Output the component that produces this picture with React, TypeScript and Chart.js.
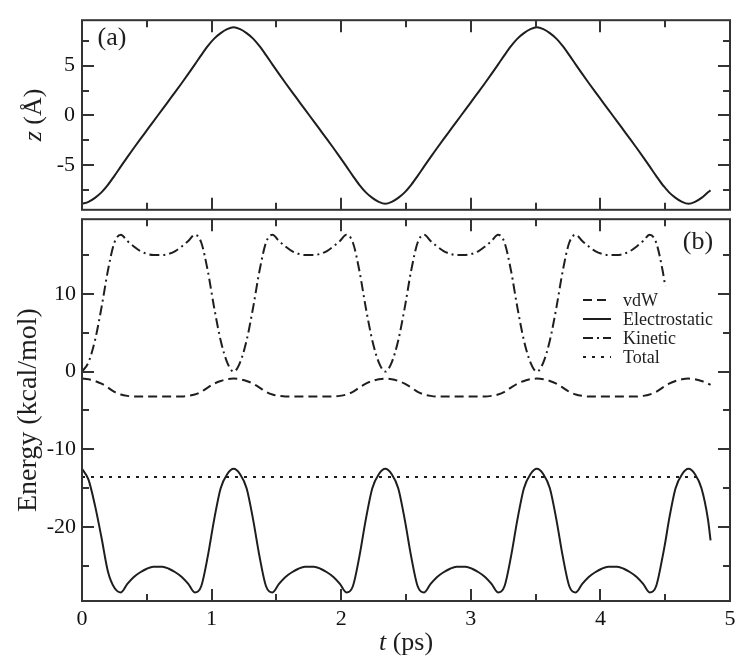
import React, { useEffect, useRef } from "react";
import { Chart, registerables } from "chart.js";
Chart.register(...registerables);

// time grid (ps)
const T = [
  0, 0.05, 0.1, 0.15, 0.2, 0.25, 0.3, 0.35, 0.4, 0.45, 0.5, 0.55, 0.62, 0.67, 0.72, 0.77, 0.82, 0.87, 0.92, 0.97, 1.02, 1.07, 1.12,
  1.17, 1.22, 1.27, 1.32, 1.37, 1.42, 1.47, 1.52, 1.57, 1.62, 1.67, 1.72, 1.79, 1.84, 1.89, 1.94, 1.99, 2.04, 2.09, 2.14, 2.19, 2.24, 2.29,
  2.34, 2.39, 2.44, 2.49, 2.54, 2.59, 2.64, 2.69, 2.74, 2.79, 2.84, 2.89, 2.96, 3.01, 3.06, 3.11, 3.16, 3.21, 3.26, 3.31, 3.36, 3.41, 3.46,
  3.51, 3.56, 3.61, 3.66, 3.71, 3.76, 3.81, 3.86, 3.91, 3.96, 4.01, 4.06, 4.13, 4.18, 4.23, 4.28, 4.33, 4.38, 4.43, 4.48, 4.5, 4.53, 4.58, 4.63,
  4.68, 4.73, 4.78, 4.83, 4.85,
];

// panel (a): z (Å)
const Z = [
  -8.85, -8.65, -8.25, -7.7, -6.95, -6.05, -5.1, -4.17, -3.26, -2.37, -1.49, -0.61, 0.61, 1.49, 2.37, 3.26, 4.17, 5.1, 6.05, 6.95, 7.7, 8.25, 8.65,
  8.85, 8.65, 8.25, 7.7, 6.95, 6.05, 5.1, 4.17, 3.26, 2.37, 1.49, 0.61, -0.61, -1.49, -2.37, -3.26, -4.17, -5.1, -6.05, -6.95, -7.7, -8.25, -8.65,
  -8.85, -8.65, -8.25, -7.7, -6.95, -6.05, -5.1, -4.17, -3.26, -2.37, -1.49, -0.61, 0.61, 1.49, 2.37, 3.26, 4.17, 5.1, 6.05, 6.95, 7.7, 8.25, 8.65,
  8.85, 8.65, 8.25, 7.7, 6.95, 6.05, 5.1, 4.17, 3.26, 2.37, 1.49, 0.61, -0.61, -1.49, -2.37, -3.26, -4.17, -5.1, -6.05, -6.95, -7.25, -7.7, -8.25, -8.65,
  -8.85, -8.65, -8.25, -7.7, -7.5,
];

// panel (b): energies (kcal/mol)
const VDW = [
  -0.9, -0.98, -1.2, -1.55, -2.05, -2.6, -2.95, -3.12, -3.2, -3.2, -3.2, -3.2, -3.2, -3.2, -3.2, -3.2, -3.12, -2.95, -2.6, -2.05, -1.55, -1.2, -0.98,
  -0.9, -0.98, -1.2, -1.55, -2.05, -2.6, -2.95, -3.12, -3.2, -3.2, -3.2, -3.2, -3.2, -3.2, -3.2, -3.2, -3.12, -2.95, -2.6, -2.05, -1.55, -1.2, -0.98,
  -0.9, -0.98, -1.2, -1.55, -2.05, -2.6, -2.95, -3.12, -3.2, -3.2, -3.2, -3.2, -3.2, -3.2, -3.2, -3.2, -3.12, -2.95, -2.6, -2.05, -1.55, -1.2, -0.98,
  -0.9, -0.98, -1.2, -1.55, -2.05, -2.6, -2.95, -3.12, -3.2, -3.2, -3.2, -3.2, -3.2, -3.2, -3.2, -3.2, -3.12, -2.95, -2.6, -2.05, -1.85, -1.55, -1.2, -0.98,
  -0.9, -0.98, -1.2, -1.55, -1.7,
];

const ELEC = [
  -12.5, -13.9, -17.2, -21.3, -25.7, -27.8, -28.4, -27.3, -26.4, -25.8, -25.35, -25.1, -25.1, -25.35, -25.8, -26.4, -27.3, -28.4, -27.6, -23.8, -19.0, -15.0, -13.2,
  -12.5, -13.2, -15.0, -19.0, -23.8, -27.6, -28.4, -27.3, -26.4, -25.8, -25.35, -25.1, -25.1, -25.35, -25.8, -26.4, -27.3, -28.4, -27.6, -23.8, -19.0, -15.0, -13.2,
  -12.5, -13.2, -15.0, -19.0, -23.8, -27.6, -28.4, -27.3, -26.4, -25.8, -25.35, -25.1, -25.1, -25.35, -25.8, -26.4, -27.3, -28.4, -27.6, -23.8, -19.0, -15.0, -13.2,
  -12.5, -13.2, -15.0, -19.0, -23.8, -27.6, -28.4, -27.3, -26.4, -25.8, -25.35, -25.1, -25.1, -25.35, -25.8, -26.4, -27.3, -28.4, -27.6, -23.8, -22.0, -19.0, -15.0, -13.2,
  -12.5, -13.2, -15.0, -19.0, -21.7,
];

const KIN = [
  0, 1.2, 4.0, 8.2, 13.0, 16.6, 17.6, 16.8, 16.1, 15.5, 15.15, 15.0, 15.0, 15.15, 15.5, 16.1, 16.8, 17.6, 16.6, 13.0, 8.2, 4.0, 1.2,
  0, 1.2, 4.0, 8.2, 13.0, 16.6, 17.6, 16.8, 16.1, 15.5, 15.15, 15.0, 15.0, 15.15, 15.5, 16.1, 16.8, 17.6, 16.6, 13.0, 8.2, 4.0, 1.2,
  0, 1.2, 4.0, 8.2, 13.0, 16.6, 17.6, 16.8, 16.1, 15.5, 15.15, 15.0, 15.0, 15.15, 15.5, 16.1, 16.8, 17.6, 16.6, 13.0, 8.2, 4.0, 1.2,
  0, 1.2, 4.0, 8.2, 13.0, 16.6, 17.6, 16.8, 16.1, 15.5, 15.15, 15.0, 15.0, 15.15, 15.5, 16.1, 16.8, 17.6, 16.6, 13.0, 11.0, null, null, null,
  null, null, null, null, null,
];

const TOTAL_T = [0, 4.78];
const TOTAL = [-13.55, -13.55];

const X_TICKS = [0, 1, 2, 3, 4, 5];
const Z_TICKS = [-5, 0, 5];
const E_TICKS = [-20, -10, 0, 10];

const LEGEND = ["vdW", "Electrostatic", "Kinetic", "Total"];

const FONT = "'Liberation Serif', 'Times New Roman', serif";
const INK = "#1e1e1e";
const FRAME = "#333333";

const DASH_VDW = [9, 5];
const DASH_KIN = [10, 4, 2, 4];
const DASH_TOT = [3, 6];

function pts(xs: number[], ys: (number | null)[]) {
  const out: { x: number; y: number }[] = [];
  xs.forEach((x, i) => {
    const v = ys[i];
    if (v !== null && v !== undefined) out.push({ x, y: v });
  });
  return out;
}

function drawMixed(ctx: CanvasRenderingContext2D, parts: { t: string; it: boolean }[], cx: number, cy: number, size: number) {
  let total = 0;
  const widths = parts.map((p) => {
    ctx.font = `${p.it ? "italic " : ""}${size}px ${FONT}`;
    const w = ctx.measureText(p.t).width;
    total += w;
    return w;
  });
  let x = cx - total / 2;
  ctx.textAlign = "left";
  ctx.textBaseline = "middle";
  parts.forEach((p, i) => {
    ctx.font = `${p.it ? "italic " : ""}${size}px ${FONT}`;
    ctx.fillText(p.t, x, cy);
    x += widths[i];
  });
}

function drawFrame(chart: any, yMinor: number, yMajor: number) {
  const { ctx, chartArea: a, scales } = chart;
  const xs = scales.x;
  const ys = scales.y;
  ctx.save();
  ctx.strokeStyle = FRAME;
  ctx.lineWidth = 2;
  ctx.setLineDash([]);
  ctx.beginPath();
  for (let v = xs.min + 0.5; v < xs.max - 1e-6; v += 0.5) {
    const px = Math.round(xs.getPixelForValue(v));
    const major = Math.abs(v - Math.round(v)) < 1e-6;
    const len = major ? 12 : 7;
    ctx.moveTo(px, a.top);
    ctx.lineTo(px, a.top + len);
    ctx.moveTo(px, a.bottom);
    ctx.lineTo(px, a.bottom - len);
  }
  const start = Math.ceil(ys.min / yMinor) * yMinor;
  for (let v = start; v <= ys.max + 1e-6; v += yMinor) {
    const py = Math.round(ys.getPixelForValue(v));
    const r = v / yMajor;
    const major = Math.abs(r - Math.round(r)) < 1e-6;
    const len = major ? 12 : 7;
    ctx.moveTo(a.left, py);
    ctx.lineTo(a.left + len, py);
    ctx.moveTo(a.right, py);
    ctx.lineTo(a.right - len, py);
  }
  ctx.stroke();
  ctx.strokeRect(a.left, a.top, a.right - a.left, a.bottom - a.top);
  ctx.restore();
}

const topDecor = {
  id: "topDecor",
  afterDraw(chart: any) {
    drawFrame(chart, 2.5, 5);
    const { ctx, chartArea: a } = chart;
    ctx.save();
    ctx.fillStyle = INK;
    ctx.font = `26px ${FONT}`;
    ctx.textAlign = "center";
    ctx.textBaseline = "middle";
    ctx.fillText("(a)", 112, 38);
    ctx.translate(34, (a.top + a.bottom) / 2);
    ctx.rotate(-Math.PI / 2);
    drawMixed(ctx, [{ t: "z", it: true }, { t: " (Å)", it: false }], 0, 0, 26);
    ctx.restore();
  },
};

const bottomDecor = {
  id: "bottomDecor",
  afterDraw(chart: any) {
    drawFrame(chart, 5, 10);
    const { ctx, chartArea: a } = chart;
    ctx.save();
    ctx.fillStyle = INK;
    ctx.font = `26px ${FONT}`;
    ctx.textAlign = "center";
    ctx.textBaseline = "middle";
    ctx.fillText("(b)", 698, 42);
    // legend
    const dashes = [DASH_VDW, [], DASH_KIN, DASH_TOT];
    ctx.strokeStyle = INK;
    ctx.lineWidth = 2;
    LEGEND.forEach((name, i) => {
      const y = 100 + i * 19;
      ctx.setLineDash(dashes[i]);
      ctx.beginPath();
      ctx.moveTo(583, y);
      ctx.lineTo(611, y);
      ctx.stroke();
      ctx.setLineDash([]);
      ctx.font = `18px ${FONT}`;
      ctx.textAlign = "left";
      ctx.textBaseline = "middle";
      ctx.fillText(name, 623, y + 1);
    });
    // x title
    drawMixed(ctx, [{ t: "t", it: true }, { t: " (ps)", it: false }], (a.left + a.right) / 2, 443, 26);
    ctx.restore();
  },
};

const lineBase = {
  borderColor: INK,
  borderWidth: 2,
  pointRadius: 0,
  fill: false,
  cubicInterpolationMode: "monotone" as const,
};

export default function App() {
  const topRef = useRef<HTMLCanvasElement>(null);
  const botRef = useRef<HTMLCanvasElement>(null);

  useEffect(() => {
    const tickFont = { family: FONT, size: 22 };
    const top = new Chart(topRef.current!, {
      type: "line",
      data: {
        datasets: [{ ...lineBase, label: "z", data: pts(T, Z) }],
      },
      options: {
        animation: false,
        responsive: false,
        devicePixelRatio: 1,
        layout: { padding: { left: 0, right: 20, top: 16, bottom: 19 } },
        plugins: { legend: { display: false }, tooltip: { enabled: false } },
        scales: {
          x: { type: "linear", min: 0, max: 5, display: false },
          y: {
            type: "linear",
            min: -9.45,
            max: 9.55,
            grid: { display: false, drawTicks: false },
            border: { display: false },
            ticks: { font: tickFont, color: "#111", padding: 7 },
            afterBuildTicks: (s: any) => {
              s.ticks = Z_TICKS.map((v) => ({ value: v }));
            },
            afterFit: (s: any) => {
              s.width = 82;
            },
          },
        },
      },
      plugins: [topDecor],
    });

    const bot = new Chart(botRef.current!, {
      type: "line",
      data: {
        datasets: [
          { ...lineBase, label: "vdW", data: pts(T, VDW), borderDash: DASH_VDW },
          { ...lineBase, label: "Electrostatic", data: pts(T, ELEC) },
          { ...lineBase, label: "Kinetic", data: pts(T, KIN), borderDash: DASH_KIN },
          { ...lineBase, label: "Total", data: pts(TOTAL_T, TOTAL), borderDash: DASH_TOT, cubicInterpolationMode: "default" as const },
        ],
      },
      options: {
        animation: false,
        responsive: false,
        devicePixelRatio: 1,
        layout: { padding: { left: 0, right: 20, top: 11, bottom: 0 } },
        plugins: { legend: { display: false }, tooltip: { enabled: false } },
        scales: {
          x: {
            type: "linear",
            min: 0,
            max: 5,
            grid: { display: false, drawTicks: false },
            border: { display: false },
            ticks: { font: tickFont, color: "#111", padding: 5, maxRotation: 0 },
            afterBuildTicks: (s: any) => {
              s.ticks = X_TICKS.map((v) => ({ value: v }));
            },
            afterFit: (s: any) => {
              s.height = 65;
            },
          },
          y: {
            type: "linear",
            min: -29.5,
            max: 19.6,
            grid: { display: false, drawTicks: false },
            border: { display: false },
            ticks: { font: tickFont, color: "#111", padding: 6 },
            title: {
              display: true,
              text: "Energy (kcal/mol)",
              color: INK,
              font: { family: FONT, size: 28 },
              padding: { top: 12, bottom: 0 },
            },
            afterBuildTicks: (s: any) => {
              s.ticks = E_TICKS.map((v) => ({ value: v }));
            },
            afterFit: (s: any) => {
              s.width = 82;
            },
          },
        },
      },
      plugins: [bottomDecor],
    });

    return () => {
      top.destroy();
      bot.destroy();
    };
  }, []);

  return (
    <div style={{ position: "relative", width: 750, height: 666 }}>
      <canvas
        ref={topRef}
        width={750}
        height={230}
        style={{ position: "fixed", left: 0, top: 0, width: 750, height: 230 }}
      />
      <canvas
        ref={botRef}
        width={750}
        height={466}
        style={{ position: "fixed", left: 0, top: 200, width: 750, height: 466 }}
      />
    </div>
  );
}
